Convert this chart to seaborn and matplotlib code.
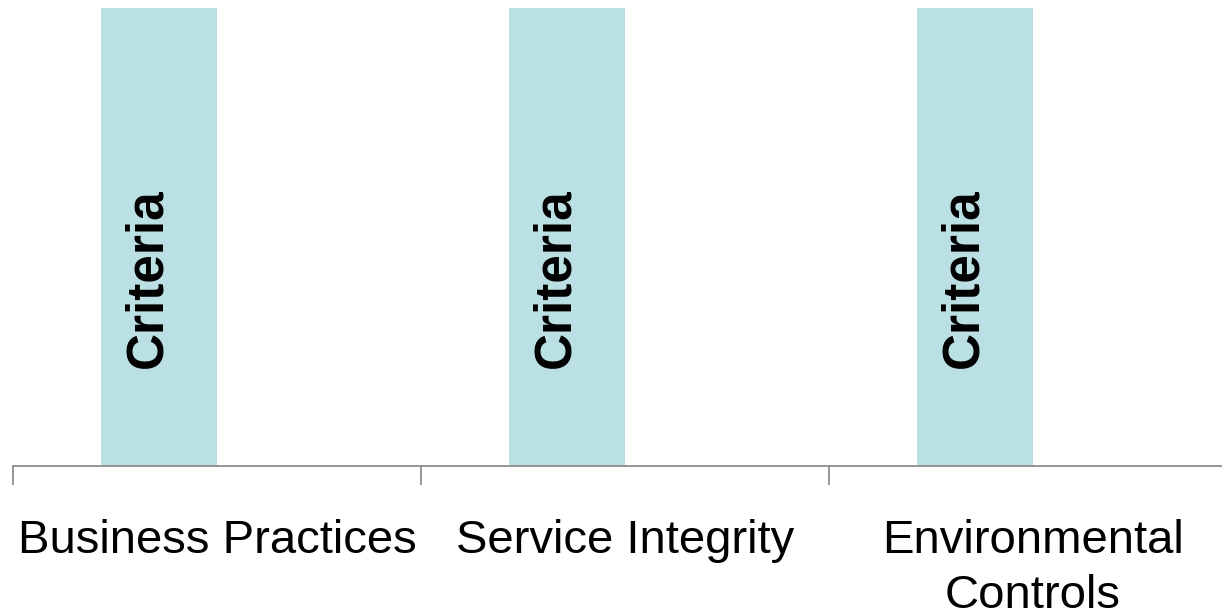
import matplotlib
matplotlib.use("Agg")
import matplotlib.pyplot as plt
import seaborn as sns
import pandas as pd

categories = ["Business Practices", "Service Integrity", "Environmental\nControls"]
series_names = ["Criteria", "Blank"]
criteria_values = [1.0, 1.0, 1.0]
blank_values = [0.0, 0.0, 0.0]
bar_label = "Criteria"

sns.set_theme(style="white")
plt.rcParams['font.family'] = ['Liberation Sans', 'DejaVu Sans']

df = pd.DataFrame({
    "category": categories * 2,
    "series": [series_names[0]] * 3 + [series_names[1]] * 3,
    "value": criteria_values + blank_values,
})

fig = plt.figure(figsize=(12.22, 6.13), dpi=100)
W, H = 1222, 613
ax = fig.add_axes([13 / W, (H - 466) / H, 1224 / W, (466 - 8) / H])

sns.barplot(data=df, x="category", y="value", hue="series", order=categories,
            hue_order=series_names, palette=["#bbe0e3", "#ffffff"],
            width=0.568, saturation=1, legend=False, ax=ax, linewidth=0)

ax.set_xlim(-0.5, 2.5)
ax.set_ylim(0, 1)
for s in ["top", "right", "left"]:
    ax.spines[s].set_visible(False)
ax.spines["bottom"].set_color("#8c8c8c")
ax.spines["bottom"].set_linewidth(1.3)
ax.set_yticks([])
ax.set_xlabel("")
ax.set_ylabel("")

ax.set_xticks([-0.5, 0.5, 1.5, 2.5])
ax.set_xticklabels([])
ax.tick_params(axis="x", which="major", length=14, width=1.3, color="#8c8c8c", bottom=True)
ax.set_xticks([0, 1, 2], minor=True)
ax.set_xticklabels(categories, minor=True, fontsize=34, color="black", linespacing=1.33)
ax.tick_params(axis="x", which="minor", length=0, pad=38)

crit = [p for p in ax.patches if p.get_height() > 0]
for p in crit:
    ax.text(p.get_x() + p.get_width() * 0.4, p.get_height() * 0.41, bar_label,
            rotation=90, ha="center", va="center", fontsize=37,
            fontweight="bold", color="black")

fig.savefig("out.png", dpi=100, facecolor="white")
